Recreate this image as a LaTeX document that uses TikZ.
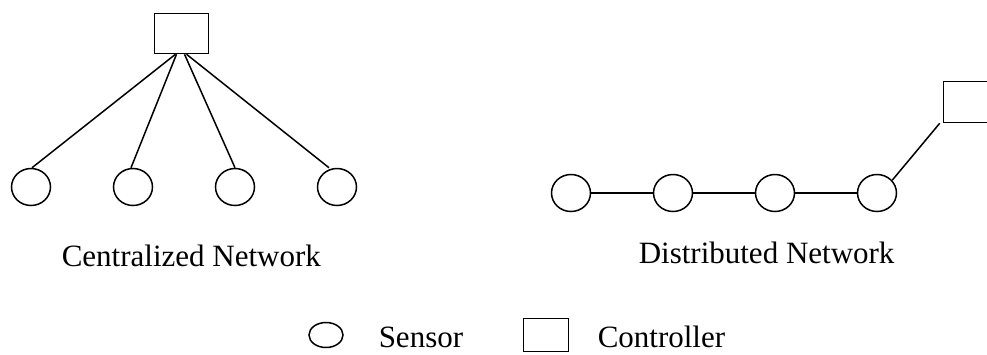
\documentclass[tikz,border=0pt]{standalone}
\usepackage{fontspec}
\setmainfont{Liberation Serif}
\usetikzlibrary{shapes}

\begin{document}
\begin{tikzpicture}[x=1pt,y=-1pt,node distance=102pt,line width=1.5pt]
\tikzstyle{sensor}=[draw,ellipse,minimum width=39pt,minimum height=37pt,inner sep=0pt]
\tikzstyle{ctrl}=[draw,rectangle,minimum width=54pt,minimum height=40pt,inner sep=0pt]
\tikzstyle{caption}=[anchor=base west,inner sep=0pt,font=\fontsize{31}{37}\selectfont]
\useasboundingbox (0,0) rectangle (987,354);

% centralized network
\node [ctrl] (c) at (181.5,33.5) {};
\node [sensor] (c1) at (31,187) {};
\node [sensor,right of=c1] (c2) {};
\node [sensor,right of=c2] (c3) {};
\node [sensor,right of=c3] (c4) {};
\path
([xshift=-6pt]c.south) edge ([xshift=1pt]c1.north)
([xshift=-5pt]c.south) edge ([xshift=-2pt]c2.north)
([xshift=3pt]c.south) edge (c3.north)
([xshift=5pt]c.south) edge ([xshift=-8pt]c4.north);
\node [caption] (cl) at (61,266) {Centralized Network};

% distributed network
\node [sensor] (d1) at (571,193) {};
\node [sensor,right of=d1] (d2) {};
\node [sensor,right of=d2] (d3) {};
\node [sensor,right of=d3] (d4) {};
\node [ctrl,minimum height=41pt] (d) at (970.5,102) {};
\path
(d1) edge (d2)
(d2) edge (d3)
(d3) edge (d4)
(d4.40) edge ([xshift=-3pt]d.south west);
\node [caption] (dl) at (638,263) {Distributed Network};

% legend
\node [sensor,minimum width=34pt,minimum height=25pt] (ls) at (326,335) {};
\node [caption] (lst) at (378,347) {Sensor};
\node [ctrl,minimum width=45pt,minimum height=33pt] (lc) at (546,335) {};
\node [caption] (lct) at (597,347) {Controller};
\end{tikzpicture}
\end{document}
